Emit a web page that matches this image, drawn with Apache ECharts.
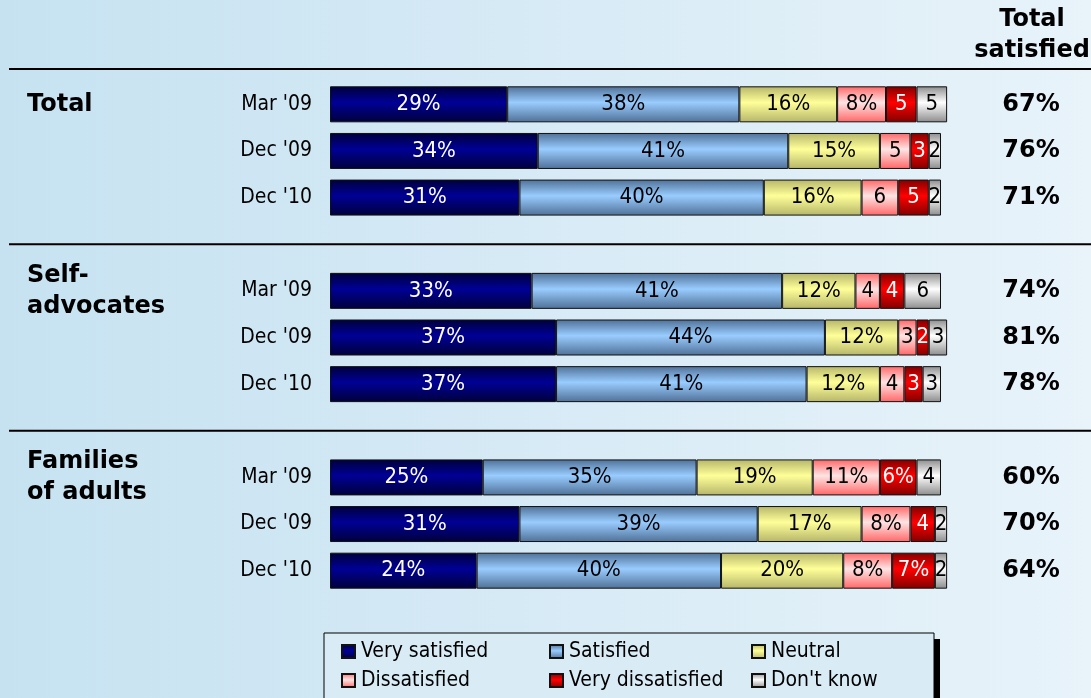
<!DOCTYPE html>
<html>
<head>
<meta charset="utf-8">
<script src="https://cdn.jsdelivr.net/npm/echarts@6/dist/echarts.min.js"></script>
<style>
  html, body { margin: 0; padding: 0; }
  #chart { width: 1091px; height: 698px; }
</style>
</head>
<body>
<div id="chart"></div>
<script>
// rows top to bottom, '' = gap row between groups
const rowLabels = ["Mar '09", "Dec '09", "Dec '10", '', "Mar '09", "Dec '09", "Dec '10", '', "Mar '09", "Dec '09", "Dec '10"]
const groupLabels = ['Total', '', '', '', 'Self-\nadvocates', '', '', '', 'Families\nof adults', '', '']
const totalSatisfied = ['67%', '76%', '71%', '', '74%', '81%', '78%', '', '60%', '70%', '64%']

const verySatisfied    = [29, 34, 31, null, 33, 37, 37, null, 25, 31, 24]
const satisfied        = [38, 41, 40, null, 41, 44, 41, null, 35, 39, 40]
const neutral          = [16, 15, 16, null, 12, 12, 12, null, 19, 17, 20]
const dissatisfied     = [8, 5, 6, null, 4, 3, 4, null, 11, 8, 8]
const veryDissatisfied = [5, 3, 5, null, 4, 2, 3, null, 6, 4, 7]
const dontKnow         = [5, 2, 2, null, 6, 3, 3, null, 4, 2, 2]

// text shown inside each segment (small ones drop the % sign)
const dissatisfiedText     = ['8%', '5', '6', '', '4', '3', '4', '', '11%', '8%', '8%']
const veryDissatisfiedText = ['5', '3', '5', '', '4', '2', '3', '', '6%', '4', '7%']

const FONT = '"DejaVu Sans Condensed", "DejaVu Sans", sans-serif'
const BOLD_FONT = '"DejaVu Sans", Verdana, sans-serif'

const grad = (edge, mid) => new echarts.graphic.LinearGradient(0, 0, 0, 1, [
    { offset: 0, color: edge },
    { offset: 0.45, color: mid },
    { offset: 1, color: edge }
])

const seriesDefs = [
    { name: 'Very satisfied', data: verySatisfied, color: grad('#00003a', '#000096'), text: '#fff', fmt: v => v + '%' },
    { name: 'Satisfied', data: satisfied, color: grad('#4f7096', '#99ccff'), text: '#000', fmt: v => v + '%' },
    { name: 'Neutral', data: neutral, color: grad('#b5b56a', '#ffff99'), text: '#000', fmt: v => v + '%' },
    { name: 'Dissatisfied', data: dissatisfied, color: grad('#ff6666', '#ffe4e4'), text: '#000', labels: dissatisfiedText },
    { name: 'Very dissatisfied', data: veryDissatisfied, color: grad('#800000', '#ff0000'), text: '#fff', labels: veryDissatisfiedText },
    { name: "Don't know", data: dontKnow, color: grad('#8c8c8c', '#ffffff'), text: '#000', fmt: v => String(v) }
]

// legend slots: 3 columns x 2 rows
const legendLeft = [341, 549, 751, 341, 549, 751]
const legendTop = [641, 641, 641, 670, 670, 670]

const chart = echarts.init(document.getElementById('chart'))

const option = {
    animation: false,
    textStyle: { fontFamily: FONT },
    grid: { left: 330, right: 150, top: 81, height: 513 },
    xAxis: {
        type: 'value', min: 0, max: 100,
        show: false
    },
    yAxis: [{
        type: 'category', inverse: true, data: rowLabels,
        axisLine: { show: false }, axisTick: { show: false },
        axisLabel: { margin: 18, fontSize: 21, color: '#000', fontFamily: FONT }
    }, {
        type: 'category', inverse: true, data: groupLabels, position: 'left',
        axisLine: { show: false }, axisTick: { show: false },
        axisLabel: { margin: 303, align: 'left', fontSize: 24, fontWeight: 'bold', lineHeight: 31, color: '#000', fontFamily: BOLD_FONT, padding: [0, 0, 4, 0] }
    }, {
        type: 'category', inverse: true, data: totalSatisfied, position: 'right',
        axisLine: { show: false }, axisTick: { show: false },
        axisLabel: { margin: 90, align: 'center', fontSize: 24, fontWeight: 'bold', color: '#000', fontFamily: BOLD_FONT }
    }],
    legend: seriesDefs.map((s, i) => ({
        data: [s.name],
        left: legendLeft[i],
        top: legendTop[i],
        itemWidth: 13, itemHeight: 13,
        itemGap: 0,
        icon: 'rect',
        selectedMode: false,
        padding: 0,
        textStyle: { fontSize: 21, color: '#000', fontFamily: FONT, padding: [0, 0, 0, 1] }
    })),
    series: seriesDefs.map(s => ({
        name: s.name,
        type: 'bar',
        stack: 'all',
        barWidth: 36,
        clip: false,
        data: s.data,
        itemStyle: { color: s.color, borderColor: '#111', borderWidth: 1 },
        label: {
            show: true,
            position: 'inside',
            fontSize: 22,
            color: s.text,
            fontFamily: FONT,
            formatter: p => p.value == null ? '' : (s.labels ? s.labels[p.dataIndex] : s.fmt(p.value))
        }
    }))
}

chart.setOption(option)

// decoration: background, header, separator lines, legend box
const gapY = [3, 7].map(i => chart.convertToPixel({ yAxisIndex: 0 }, i))
const lineStyle = { stroke: '#000', lineWidth: 2 }
chart.setOption({
    graphic: [
        {
            type: 'rect', z: -100, silent: true,
            shape: { x: 0, y: 0, width: 1091, height: 698 },
            style: { fill: new echarts.graphic.LinearGradient(0, 0, 1, 0, [
                { offset: 0, color: '#c6e2f1' },
                { offset: 1, color: '#e8f3fa' }
            ]) }
        },
        { type: 'line', silent: true, shape: { x1: 9, y1: 69, x2: 1091, y2: 69 }, style: lineStyle },
        ...gapY.map(y => ({ type: 'line', silent: true, shape: { x1: 9, y1: y, x2: 1091, y2: y }, style: lineStyle })),
        {
            type: 'text', silent: true, x: 1032, y: 4,
            style: { text: 'Total\nsatisfied', align: 'center', fontSize: 24, fontWeight: 'bold', fontFamily: BOLD_FONT, lineHeight: 31, fill: '#000' }
        },
        { type: 'rect', silent: true, z: -2, shape: { x: 330, y: 639, width: 610, height: 70 }, style: { fill: '#000' } },
        { type: 'rect', silent: true, z: -1, shape: { x: 324, y: 633, width: 610, height: 70 }, style: { fill: '#d9ecf6', stroke: '#000', lineWidth: 1 } }
    ]
})
</script>
</body>
</html>
